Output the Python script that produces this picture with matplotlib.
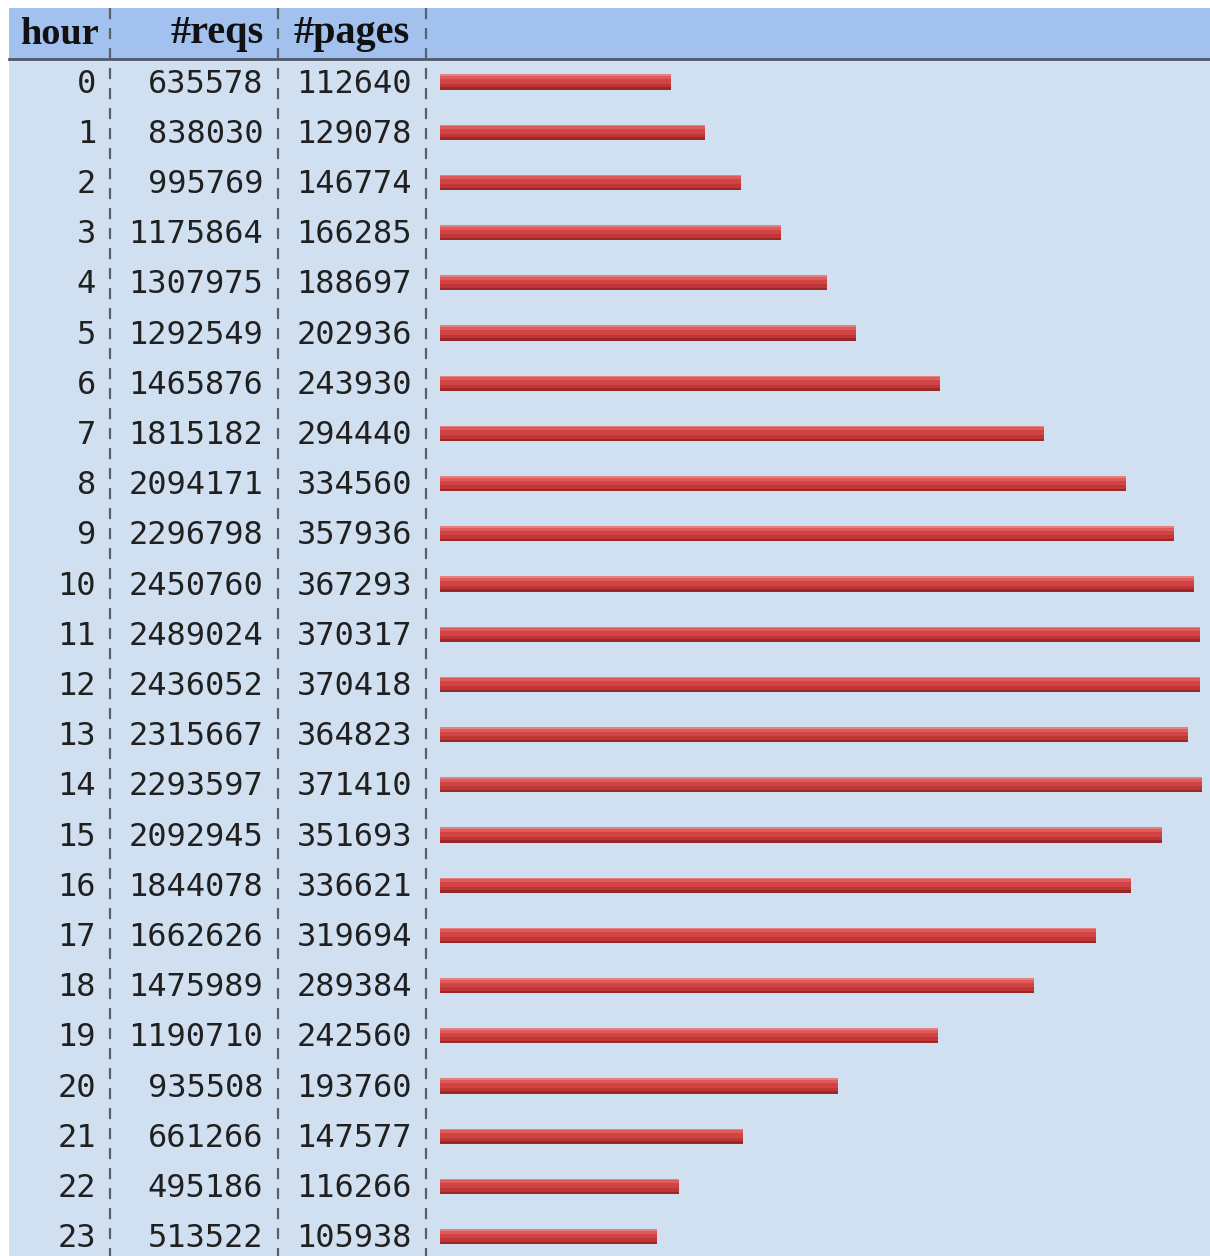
import matplotlib
matplotlib.use("Agg")
import matplotlib.pyplot as plt
from matplotlib.patches import Rectangle

hours = list(range(24))
reqs = [635578, 838030, 995769, 1175864, 1307975, 1292549, 1465876, 1815182,
        2094171, 2296798, 2450760, 2489024, 2436052, 2315667, 2293597, 2092945,
        1844078, 1662626, 1475989, 1190710, 935508, 661266, 495186, 513522]
pages = [112640, 129078, 146774, 166285, 188697, 202936, 243930, 294440,
         334560, 357936, 367293, 370317, 370418, 364823, 371410, 351693,
         336621, 319694, 289384, 242560, 193760, 147577, 116266, 105938]
headers = ["hour", "#reqs", "#pages"]

W, H = 1210, 1256
fig = plt.figure(figsize=(W / 100, H / 100), dpi=100)
fig.patch.set_facecolor("white")

def fx(px):
    return px / W

def fy(py):
    return 1 - py / H

body_top, head_top = 60, 8
left = 9
row0, step = 82, 50.2

# header band
fig.patches.append(Rectangle((fx(left), fy(body_top)), fx(W - left), fy(head_top) - fy(body_top),
                             transform=fig.transFigure, facecolor="#a2c1ee", edgecolor="none", zorder=-2))
# body band
fig.patches.append(Rectangle((fx(left), 0), fx(W - left), fy(body_top),
                             transform=fig.transFigure, facecolor="#d1e0f0", edgecolor="none", zorder=-2))
# header separator line
fig.lines.append(plt.Line2D([fx(left), 1], [fy(body_top - 1), fy(body_top - 1)],
                            transform=fig.transFigure, color="#505868", lw=2, zorder=3))

# main axes for body text (rows as y units)
ax = fig.add_axes([fx(left), 0, 1 - fx(left), fy(body_top)])
ax.set_zorder(1)
ax.set_xlim(left, W)
ytop = (body_top - row0) / step
ybot = (H - row0) / step
ax.set_ylim(ybot, ytop)
ax.axis("off")

mono = dict(family="DejaVu Sans Mono", fontsize=23, color="#202020")
dy = 0.04
for i, (h, r, p) in enumerate(zip(hours, reqs, pages)):
    ax.text(96, i + dy, str(h), ha="right", va="center", **mono)
    ax.text(263, i + dy, str(r), ha="right", va="center", **mono)
    ax.text(412, i + dy, str(p), ha="right", va="center", **mono)

# headers
hfont = dict(family="Liberation Serif", fontweight="bold", fontsize=29, color="#111111")
fig.text(fx(20), fy(34), headers[0], ha="left", va="center", fontstretch="condensed",
         **{k: v for k, v in hfont.items() if k != "fontsize"}, fontsize=27.5)
fig.text(fx(264), fy(34), headers[1], ha="right", va="center", **hfont)
fig.text(fx(293), fy(34), headers[2], ha="left", va="center", **hfont)

# dashed column separators
for xs in [110, 278, 426]:
    fig.lines.append(plt.Line2D([fx(xs), fx(xs)], [fy(head_top), 0], transform=fig.transFigure,
                                color="#5a5f6e", lw=1.6, dashes=(5, 4), zorder=4))

# bars axes
bx0 = 440
bax = fig.add_axes([fx(bx0), 0, 1 - fx(bx0), fy(body_top)], sharey=ax)
bax.set_zorder(2)
pmax = max(pages)
bax.set_xlim(0, pmax * (W - bx0) / 762)
bax.set_ylim(ybot, ytop)
bax.axis("off")
bh = 0.30
layers = [
    (0.00, 0.10, "#e48080"),
    (0.10, 0.30, "#df5a5a"),
    (0.30, 0.60, "#d24444"),
    (0.60, 0.85, "#bf3636"),
    (0.85, 1.00, "#9a2828"),
]
for i, p in enumerate(pages):
    for a, b, c in layers:
        yc = i - bh / 2 + (a + b) / 2 * bh
        bax.barh(yc, p, height=(b - a) * bh, left=0, color=c, edgecolor="none")

fig.savefig("out.png", dpi=100, facecolor=fig.get_facecolor())
